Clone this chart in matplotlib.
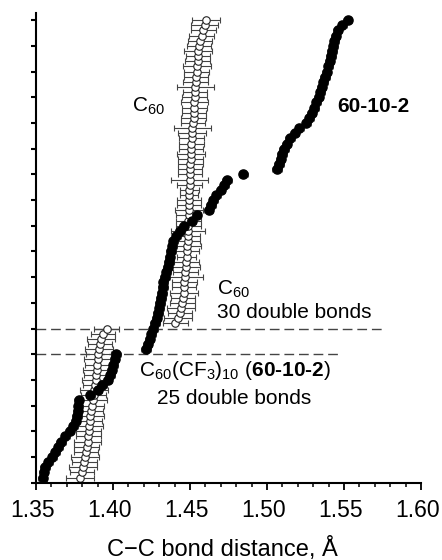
import numpy as np
import matplotlib
matplotlib.use('Agg')
import matplotlib.pyplot as plt
import matplotlib.transforms as mtransforms

plt.rcParams['font.family'] = ['Liberation Sans', 'DejaVu Sans']
plt.rcParams['mathtext.fontset'] = 'custom'
plt.rcParams['mathtext.rm'] = 'Liberation Sans'
plt.rcParams['mathtext.it'] = 'Liberation Sans:italic'
plt.rcParams['mathtext.bf'] = 'Liberation Sans:bold'

# sorted C-C bond distances (A), bond index 1..90
c60 = [1.3788, 1.3798, 1.3807, 1.3813, 1.3819, 1.3825, 1.3830, 1.3835, 1.3840, 1.3843,
       1.3847, 1.3850, 1.3853, 1.3857, 1.3862, 1.3868, 1.3874, 1.3879, 1.3883, 1.3887,
       1.3891, 1.3894, 1.3898, 1.3901, 1.3905, 1.3910, 1.3915, 1.3920, 1.3935, 1.3958,
       1.4405, 1.4420, 1.4435, 1.4443, 1.4450, 1.4455, 1.4459, 1.4462, 1.4464, 1.4467,
       1.4470, 1.4473, 1.4476, 1.4478, 1.4480, 1.4482, 1.4484, 1.4486, 1.4488, 1.4489,
       1.4490, 1.4491, 1.4492, 1.4493, 1.4494, 1.4495, 1.4496, 1.4497, 1.4498, 1.4499,
       1.4500, 1.4502, 1.4504, 1.4505, 1.4507, 1.4509, 1.4511, 1.4513, 1.4516, 1.4520,
       1.4523, 1.4526, 1.4528, 1.4529, 1.4531, 1.4532, 1.4534, 1.4536, 1.4539, 1.4543,
       1.4546, 1.4549, 1.4552, 1.4554, 1.4558, 1.4565, 1.4575, 1.4587, 1.4595, 1.4605]
c60_err = [0.009, 0.008, 0.009, 0.008, 0.009, 0.008, 0.008, 0.009, 0.008, 0.008,
           0.009, 0.008, 0.009, 0.008, 0.008, 0.009, 0.008, 0.009, 0.008, 0.009,
           0.008, 0.009, 0.008, 0.009, 0.008, 0.009, 0.008, 0.009, 0.008, 0.008,
           0.008, 0.009, 0.008, 0.009, 0.008, 0.008, 0.009, 0.008, 0.008, 0.012,
           0.008, 0.009, 0.008, 0.006, 0.008, 0.009, 0.008, 0.008, 0.011, 0.008,
           0.008, 0.008, 0.009, 0.008, 0.008, 0.006, 0.006, 0.008, 0.012, 0.008,
           0.008, 0.008, 0.008, 0.009, 0.008, 0.008, 0.008, 0.009, 0.012, 0.008,
           0.008, 0.008, 0.008, 0.009, 0.008, 0.008, 0.012, 0.008, 0.008, 0.008,
           0.009, 0.008, 0.008, 0.009, 0.008, 0.008, 0.008, 0.008, 0.009, 0.009]
cf3 = [1.3543, 1.3550, 1.3558, 1.3580, 1.3605, 1.3625, 1.3645, 1.3662, 1.3690, 1.3718,
       1.3742, 1.3758, 1.3766, 1.3770, 1.3774, 1.3778, 1.3852, 1.3900, 1.3926, 1.3965,
       1.3982, 1.3992, 1.4002, 1.4012, 1.4022, 1.4215, 1.4225, 1.4238, 1.4250, 1.4262,
       1.4273, 1.4283, 1.4292, 1.4300, 1.4306, 1.4312, 1.4318, 1.4324, 1.4328, 1.4338,
       1.4347, 1.4355, 1.4362, 1.4368, 1.4376, 1.4384, 1.4392, 1.4412, 1.4435, 1.4458,
       1.4510, 1.4543, 1.4622, 1.4637, 1.4651, 1.4670, 1.4700, 1.4722, 1.4740, 1.4846,
       1.5065, 1.5078, 1.5088, 1.5097, 1.5110, 1.5128, 1.5150, 1.5180, 1.5210, 1.5255,
       1.5275, 1.5290, 1.5308, 1.5320, 1.5335, 1.5345, 1.5355, 1.5365, 1.5377, 1.5388,
       1.5398, 1.5408, 1.5415, 1.5422, 1.5430, 1.5438, 1.5446, 1.5460, 1.5490, 1.5525]
cf3_err = 0.003

idx = np.arange(1, 91)

fig = plt.figure(figsize=(4.42, 5.6), dpi=100)
ax = fig.add_axes([0.0814, 0.138, 0.8711, 0.8388])

ax.errorbar(c60, idx, xerr=c60_err, fmt='o', ms=5.4, mfc='white', mec='#222222', mew=0.8,
            ecolor='#444444', elinewidth=0.8, capsize=2.2, capthick=0.8, zorder=2)
ax.errorbar(cf3, idx, xerr=cf3_err, fmt='o', ms=6.6, mfc='black', mec='black',
            ecolor='#666666', elinewidth=0.7, capsize=1.8, capthick=0.7, zorder=3)

ax.plot([1.35, 1.5745], [30, 30], color='#444444', lw=1, linestyle=(0, (7, 3.5)), zorder=1)
ax.plot([1.35, 1.547], [25, 25], color='#444444', lw=1, linestyle=(0, (7, 3.5)), zorder=1)

ax.text(1.4121, 72.2, r'C$_{60}$', fontsize=15, va='baseline')
ax.text(1.5453, 72.2, '60-10-2', fontsize=15, fontweight='bold', va='baseline')
ax.text(1.4673, 36.5, r'C$_{60}$', fontsize=15, va='baseline')
ax.text(1.4673, 32.1, '30 double bonds', fontsize=15, va='baseline')
ax.text(1.4792, 20.8, r'C$_{60}$(CF$_3$)$_{10}$ ($\mathbf{60‐10‐2}$)', fontsize=15,
        va='baseline', ha='center')
ax.text(1.4786, 15.4, '25 double bonds', fontsize=15, va='baseline', ha='center')

ax.set_xlim(1.35, 1.60)
ax.set_ylim(0, 91.4)
ax.set_xticks(np.arange(1.35, 1.601, 0.05))
ax.set_xticks(np.arange(1.35, 1.601, 0.01), minor=True)
ax.set_xticklabels(['1.35', '1.40', '1.45', '1.50', '1.55', '1.60'])
ax.set_yticks(np.arange(0, 91, 5))
ax.set_yticklabels([])
ax.tick_params(axis='x', which='major', direction='out', length=5, width=1.3, labelsize=16.5, pad=7)
ax.tick_params(axis='x', which='minor', direction='out', length=3.2, width=1.1)
ax.tick_params(axis='y', which='major', direction='out', length=3.6, width=1.5)
shift = mtransforms.ScaledTranslation(-3 / 100, 0, fig.dpi_scale_trans)
for lab in ax.get_xticklabels():
    lab.set_transform(lab.get_transform() + shift)
for s in ['top', 'right']:
    ax.spines[s].set_visible(False)
for s in ['left', 'bottom']:
    ax.spines[s].set_linewidth(1.5)

fig.text(222.5 / 442, 1 - 556 / 560, 'C\u2212C bond distance, \u00c5', fontsize=17,
         ha='center', va='baseline')

fig.savefig('out.png', dpi=100)
